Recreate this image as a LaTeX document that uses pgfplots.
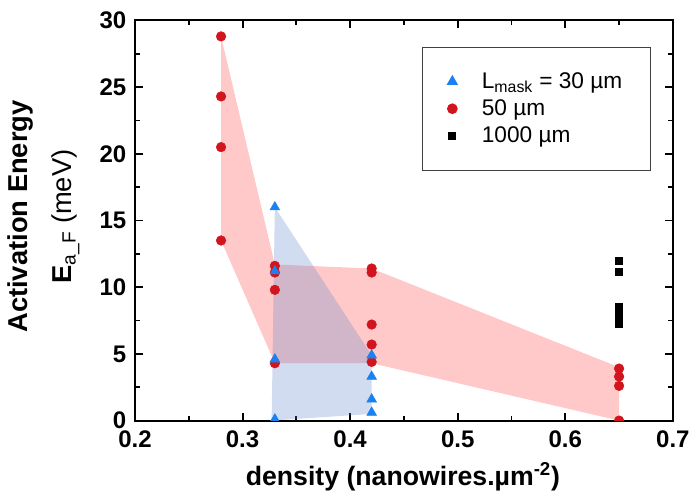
\documentclass[border=0pt]{standalone}
\usepackage{fontspec}
\setmainfont{Liberation Sans}
\usepackage{pgfplots}
\pgfplotsset{compat=1.18}

\definecolor{mred}{RGB}{210,20,30}
\definecolor{mblue}{RGB}{25,130,240}
\definecolor{fred}{RGB}{255,60,60}
\definecolor{fblue}{RGB}{90,130,200}

\begin{document}
\begin{tikzpicture}
\begin{axis}[
  scale only axis,
  width=403.5pt, height=300.2pt,
  xmin=0.2, xmax=0.7,
  ymin=0, ymax=30,
  xtick={0.2,0.3,...,0.7},
  ytick={0,5,...,30},
  minor x tick num=1,
  minor y tick num=1,
  tick pos=both,
  tick align=inside,
  major tick length=6pt,
  minor tick length=3.5pt,
  axis line style={line width=1.6pt},
  every tick/.style={black, line width=1.4pt},
  /pgf/number format/assume math mode=true,
  tick label style={font=\fontsize{18}{21}\selectfont\bfseries},
  yticklabel style={xshift=-3pt},
  xticklabel style={yshift=-4pt, /pgf/number format/fixed,
    /pgf/number format/fixed zerofill, /pgf/number format/precision=1},
  xlabel={density (nanowires.µm\textsuperscript{-2})},
  ylabel={Activation Energy\\[9pt]E\textsubscript{\mdseries a\_F}\mdseries{} (meV)},
  xlabel style={font=\fontsize{20}{24}\selectfont\bfseries,
    at={(axis description cs:0.498,-0.14)}, anchor=center},
  ylabel style={font=\fontsize{20.5}{24}\selectfont\bfseries, align=center,
    at={(axis description cs:-0.17,0.51)}, anchor=center},
  clip marker paths=true,
  legend cell align=left,
  legend style={
    at={(0.959,0.934)}, anchor=north east,
    draw=black!75, line width=0.8pt,
    font=\fontsize{17}{20}\selectfont,
    inner xsep=19pt, inner ysep=17pt,
    row sep=3pt,
    /tikz/every odd column/.append style={column sep=16.5pt},
  },
]
% shaded envelopes
\addplot[draw=none, fill=fred, fill opacity=0.28, forget plot] coordinates {
  (0.28,28.8) (0.33,11.7) (0.42,11.4) (0.65,4.0) (0.65,0.0) (0.42,4.3) (0.33,4.3) (0.28,13.5)
};
\addplot[draw=none, fill=fblue, fill opacity=0.28, forget plot] coordinates {
  (0.33,16.0) (0.42,4.9) (0.42,0.5) (0.327,0.0)
};

% legend
\addlegendimage{only marks, mark=triangle*, mark size=4.2pt, color=mblue}
\addlegendentry{L\textsubscript{mask} = 30 µm}
\addlegendimage{only marks, mark=*, mark size=3.6pt, color=mred}
\addlegendentry{50 µm}
\addlegendimage{only marks, mark=square*, mark size=2.7pt, color=black}
\addlegendentry{1000 µm}

% 50 um
\addplot[only marks, mark=*, mark size=3.6pt, color=mred, forget plot] coordinates {
  (0.28,28.8) (0.28,24.3) (0.28,20.5) (0.28,13.5)
  (0.33,11.6) (0.33,11.1) (0.33,9.8) (0.33,4.3)
  (0.42,11.4) (0.42,11.1) (0.42,7.2) (0.42,5.7) (0.42,4.4)
  (0.65,3.9) (0.65,3.3) (0.65,2.6) (0.65,0.0)
};
% 30 um
\addplot[only marks, mark=triangle*, mark size=4.2pt, color=mblue, forget plot] coordinates {
  (0.33,16.0) (0.33,11.2) (0.33,4.6) (0.33,0.1)
  (0.42,4.9) (0.42,3.3) (0.42,1.6) (0.42,0.6)
};
% 1000 um
\addplot[only marks, mark=square*, mark size=2.7pt, color=black, forget plot] coordinates {
  (0.65,12.0) (0.65,11.15) (0.65,8.5) (0.65,8.0) (0.65,7.6) (0.65,7.3)
};

\coordinate (bl) at (rel axis cs:-0.251,-0.192);
\coordinate (tr) at (rel axis cs:1.039,1.051);
\end{axis}
\path (bl) rectangle (tr);
\end{tikzpicture}
\end{document}
